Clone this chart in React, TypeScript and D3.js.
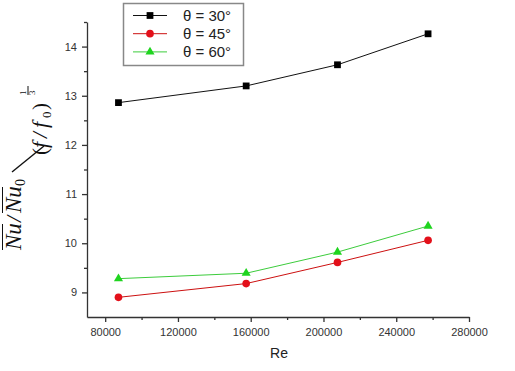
import React, { useEffect, useRef } from 'react';
import * as d3 from 'd3';

// values
const reynolds = [87300, 157500, 207700, 257500];
const theta30 = [12.86, 13.2, 13.63, 14.26];
const theta45 = [8.9, 9.18, 9.61, 10.06];
const theta60 = [9.28, 9.39, 9.82, 10.35];
const seriesNames = ['θ = 30°', 'θ = 45°', 'θ = 60°'];
const xTicks = [80000, 120000, 160000, 200000, 240000, 280000];
const xMinorTicks = [100000, 140000, 180000, 220000, 260000];
const yTicks = [9, 10, 11, 12, 13, 14];
const yMinorTicks = [9.5, 10.5, 11.5, 12.5, 13.5, 14.5];

const lineColors = ['#111', '#cc1010', '#3ccc3c'];
const markerColors = ['#000', '#e3101a', '#1fd41f'];
const markerShapes = [d3.symbolSquare, d3.symbolCircle, d3.symbolTriangle];
const markerSizes = [46, 46, 36];

const App = () => {
  const svgRef = useRef<SVGSVGElement | null>(null);

  useEffect(() => {
    const width = 515;
    const height = 371;
    const margin = { top: 22, right: 46, bottom: 54, left: 87 };

    const svg = d3.select(svgRef.current);
    svg.selectAll('*').remove();

    const x = d3
      .scaleLinear()
      .domain([70000, 280000])
      .range([margin.left, width - margin.right]);

    const y = d3
      .scaleLinear()
      .domain([8.5, 14.5])
      .range([height - margin.bottom, margin.top]);

    const axisColor = '#333';
    const tickFont = '"Liberation Sans", Arial, sans-serif';

    // bottom axis, major + minor ticks
    const xAxis = svg.append('g')
      .attr('transform', `translate(0,${height - margin.bottom})`)
      .call(d3.axisBottom(x).tickValues(xTicks).tickSize(5).tickSizeOuter(0).tickPadding(6).tickFormat(d3.format('d')));
    svg.append('g')
      .attr('transform', `translate(0,${height - margin.bottom})`)
      .call(d3.axisBottom(x).tickValues(xMinorTicks).tickSize(3).tickFormat(() => ''))
      .call(g => g.select('.domain').remove());

    // left axis, major + minor ticks
    const yAxis = svg.append('g')
      .attr('transform', `translate(${margin.left},0)`)
      .call(d3.axisLeft(y).tickValues(yTicks).tickSize(5).tickSizeOuter(0).tickPadding(5).tickFormat(d3.format('d')));
    svg.append('g')
      .attr('transform', `translate(${margin.left},0)`)
      .call(d3.axisLeft(y).tickValues(yMinorTicks).tickSize(3).tickFormat(() => ''))
      .call(g => g.select('.domain').remove());

    svg.selectAll('.domain, .tick line')
      .attr('stroke', axisColor)
      .attr('stroke-width', 1.3);
    [xAxis, yAxis].forEach(a => {
      a.attr('font-family', tickFont).attr('font-size', 11);
      a.selectAll('text').attr('fill', axisColor);
    });

    // x axis title
    svg.append('text')
      .attr('x', (x(70000) + x(280000)) / 2 + 1)
      .attr('y', 358)
      .attr('text-anchor', 'middle')
      .attr('font-family', tickFont)
      .attr('font-size', 14)
      .attr('fill', '#222')
      .text('Re');

    // y axis title: Nu/Nu0 over (f/f0)^(1/3), rotated
    const serif = '"Liberation Serif", "Times New Roman", serif';
    const lab = svg.append('g').attr('transform', 'rotate(-90)').attr('fill', '#111');
    const piece = (sy: number, sx: number, txt: string, size: number, italic = true) =>
      lab.append('text')
        .attr('x', -sy)
        .attr('y', sx)
        .attr('font-family', serif)
        .attr('font-size', size)
        .attr('font-style', italic ? 'italic' : 'normal')
        .text(txt);
    const bar = (sy0: number, sy1: number, sx: number) =>
      lab.append('line')
        .attr('x1', -sy0).attr('x2', -sy1)
        .attr('y1', sx).attr('y2', sx)
        .attr('stroke', '#111').attr('stroke-width', 1);

    piece(250, 21, 'Nu', 23);
    bar(250, 224, 2.5);
    piece(222, 21, '/', 22);
    piece(213, 21, 'Nu', 23);
    bar(213, 187, 2.5);
    piece(186, 25, '0', 14, false);
    svg.append('line')
      .attr('x1', 12).attr('y1', 172)
      .attr('x2', 44).attr('y2', 146)
      .attr('stroke', '#111').attr('stroke-width', 1.4);
    piece(155, 47, '(', 21, false);
    piece(148, 47, 'f', 22);
    piece(138, 47, '/', 21);
    piece(128, 47, 'f', 22);
    piece(118, 51, '0', 13, false);
    piece(110, 47, ')', 21, false);
    piece(95, 26, '1', 9, false);
    bar(95, 86, 28);
    piece(95, 35, '3', 9, false);

    // series lines and markers
    const series = [theta30, theta45, theta60];
    const line = d3.line<number>()
      .x((_, i) => x(reynolds[i]))
      .y(d => y(d));

    series.forEach((values, s) => {
      svg.append('path')
        .datum(values)
        .attr('d', line)
        .attr('fill', 'none')
        .attr('stroke', lineColors[s])
        .attr('stroke-width', 1);

      svg.selectAll(`.mk${s}`)
        .data(values)
        .enter()
        .append('path')
        .attr('class', `mk${s}`)
        .attr('d', d3.symbol(markerShapes[s], markerSizes[s]))
        .attr('transform', (d, i) => `translate(${x(reynolds[i])},${y(d)})`)
        .attr('fill', markerColors[s]);
    });

    // legend
    const legend = svg.append('g');
    legend.append('rect')
      .attr('x', 123.5)
      .attr('y', 3.5)
      .attr('width', 120)
      .attr('height', 62)
      .attr('fill', '#fff')
      .attr('stroke', '#888')
      .attr('stroke-width', 1.5);
    seriesNames.forEach((name, s) => {
      const ly = 15.5 + s * 18.2;
      legend.append('line')
        .attr('x1', 133).attr('x2', 167)
        .attr('y1', ly).attr('y2', ly)
        .attr('stroke', lineColors[s])
        .attr('stroke-width', 1);
      legend.append('path')
        .attr('d', d3.symbol(markerShapes[s], markerSizes[s]))
        .attr('transform', `translate(150,${ly})`)
        .attr('fill', markerColors[s]);
      legend.append('text')
        .attr('x', 183)
        .attr('y', ly + 5)
        .attr('font-family', tickFont)
        .attr('font-size', 15)
        .attr('fill', '#222')
        .text(name);
    });
  }, []);

  return (
    <svg
      ref={svgRef}
      width={515}
      height={371}
      style={{ position: 'absolute', left: 0, top: 0, background: '#fff' }}
    />
  );
};

export default App;
